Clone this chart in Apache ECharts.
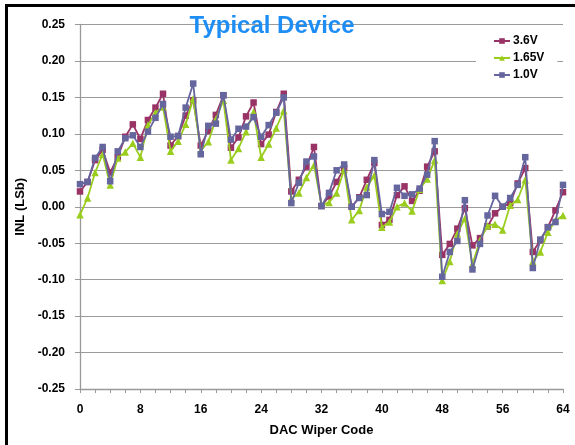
<!DOCTYPE html>
<html>
<head>
<meta charset="utf-8">
<script src="https://cdn.jsdelivr.net/npm/echarts@6/dist/echarts.min.js"></script>
<style>
html,body{margin:0;padding:0;background:#fff;overflow:hidden;width:575px;height:445px;}
#chart{position:absolute;left:0;top:0;width:575px;height:445px;}
#frame{position:absolute;left:5px;top:4px;width:570px;height:441px;box-sizing:border-box;border-left:3px solid #000;border-top:3px solid #000;pointer-events:none;}
</style>
</head>
<body>
<div id="chart"></div>
<div id="frame"></div>
<script>
const titleText = 'Typical Device';
const xName = 'DAC Wiper Code';
const yName = 'INL (LSb)';
const seriesNames = ['3.6V', '1.65V', '1.0V'];

const inl36 = [0.021,0.034,0.064,0.078,0.047,0.068,0.096,0.113,0.093,0.119,0.136,0.155,0.084,0.097,0.125,0.146,
  0.084,0.104,0.126,0.153,0.081,0.095,0.124,0.143,0.086,0.099,0.130,0.155,0.021,0.037,0.055,0.082,
  0.001,0.014,0.034,0.053,0.000,0.013,0.037,0.060,-0.025,-0.018,0.016,0.028,0.008,0.022,0.055,0.076,
  -0.066,-0.051,-0.030,-0.002,-0.053,-0.043,-0.027,-0.009,0.000,0.005,0.032,0.053,-0.062,-0.046,-0.028,-0.005,0.020];
const inl165 = [-0.011,0.012,0.047,0.072,0.030,0.067,0.075,0.087,0.068,0.112,0.129,0.137,0.076,0.090,0.113,0.148,
  0.077,0.089,0.120,0.146,0.064,0.080,0.103,0.130,0.068,0.086,0.108,0.132,0.011,0.019,0.040,0.057,
  0.002,0.006,0.019,0.051,-0.018,-0.005,0.027,0.043,-0.028,-0.021,0.000,0.005,-0.006,0.024,0.038,0.064,
  -0.101,-0.075,-0.037,-0.016,-0.079,-0.046,-0.026,-0.024,-0.032,0.002,0.010,0.037,-0.075,-0.062,-0.035,-0.019,-0.012];
const inl10 = [0.031,0.034,0.067,0.082,0.035,0.076,0.094,0.098,0.082,0.103,0.122,0.141,0.096,0.097,0.136,0.169,
  0.072,0.111,0.114,0.153,0.092,0.107,0.110,0.123,0.096,0.112,0.129,0.150,0.005,0.033,0.062,0.069,
  0.001,0.019,0.050,0.058,0.000,0.012,0.016,0.064,-0.010,-0.007,0.026,0.015,0.017,0.025,0.044,0.090,
  -0.096,-0.062,-0.047,0.009,-0.086,-0.051,-0.012,0.015,0.000,0.012,0.030,0.068,-0.084,-0.045,-0.028,-0.021,0.030];

const colors = ['#993366', '#9acd1e', '#66669f'];
const symbols = ['rect', 'triangle', 'rect'];
const sizes = [6.5, 7.5, 6.5];
const allData = [inl36, inl165, inl10];

const chart = echarts.init(document.getElementById('chart'), null, {renderer: 'canvas'});
const labelFont = {color: '#000', fontWeight: 'bold', fontSize: 12, fontFamily: 'Liberation Sans, Arial, sans-serif'};

const option = {
  animation: false,
  backgroundColor: '#fff',
  title: {
    text: titleText,
    left: 267, top: 9,
    textAlign: 'center',
    textStyle: {color: '#1e8ef5', fontSize: 24, fontWeight: 'bold', fontFamily: 'Liberation Sans, Arial, sans-serif'}
  },
  legend: {
    orient: 'vertical',
    left: 476, top: 31,
    backgroundColor: '#fff',
    padding: [3, 13, 3, 17],
    itemWidth: 16, itemHeight: 7, itemGap: 3,
    textStyle: {color: '#000', fontWeight: 'bold', fontSize: 12, lineHeight: 14, padding: [0, 0, 0, -2], fontFamily: 'Liberation Sans, Arial, sans-serif'},
    data: seriesNames
  },
  grid: {left: 80, right: 12, top: 24.5, bottom: 56, containLabel: false},
  xAxis: {
    type: 'value', min: 0, max: 64, interval: 8,
    name: xName, nameLocation: 'middle', nameGap: 35,
    nameTextStyle: {color: '#000', fontWeight: 'bold', fontSize: 13, fontFamily: 'Liberation Sans, Arial, sans-serif'},
    axisLine: {show: true, onZero: false, lineStyle: {color: '#999', width: 1.3}},
    axisTick: {show: true, length: 4, lineStyle: {color: '#999'}},
    minorTick: {show: true, splitNumber: 4, length: 4, lineStyle: {color: '#999'}},
    splitLine: {show: false},
    axisLabel: Object.assign({margin: 15}, labelFont)
  },
  yAxis: {
    type: 'value', min: -0.25, max: 0.25, interval: 0.05,
    name: yName, nameLocation: 'middle', nameGap: 53, nameRotate: 90,
    nameTextStyle: {color: '#000', fontWeight: 'bold', fontSize: 13, fontFamily: 'Liberation Sans, Arial, sans-serif'},
    axisLine: {show: true, lineStyle: {color: '#999', width: 1.3}},
    axisTick: {show: true, length: 5, lineStyle: {color: '#999'}},
    splitLine: {show: true, lineStyle: {color: '#9a9a9a', width: 1.2}},
    axisLabel: Object.assign({margin: 15, formatter: v => v.toFixed(2)}, labelFont)
  },
  series: seriesNames.map((name, k) => ({
    name: name,
    type: 'line',
    data: allData[k].map((v, i) => [i, v]),
    symbol: symbols[k],
    symbolSize: sizes[k],
    showAllSymbol: true,
    color: colors[k],
    lineStyle: {color: colors[k], width: 1.8},
    itemStyle: {color: colors[k]},
    z: 2 + k
  }))
};
chart.setOption(option);
</script>
</body>
</html>
